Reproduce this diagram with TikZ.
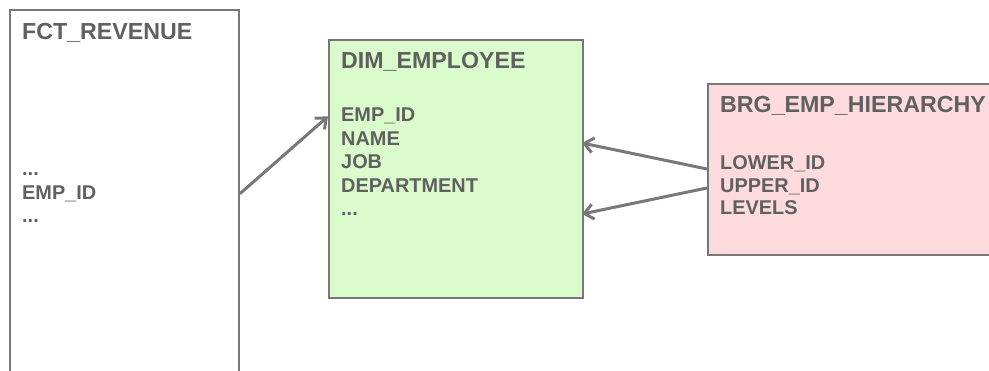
\documentclass[tikz,border=0pt]{standalone}
\usepackage{fontspec}
\setmainfont{Liberation Sans}
\usetikzlibrary{arrows.meta}

\definecolor{txtgray}{RGB}{96,96,96}
\definecolor{linegray}{RGB}{120,120,120}
\definecolor{dimgreen}{RGB}{218,251,203}
\definecolor{brgpink}{RGB}{253,218,221}

\newcommand{\etc}{...}

\tikzset{
  tablebox/.style={draw=linegray, line width=2pt, inner sep=0pt, anchor=north west},
  tabletitle/.style={text=txtgray, font=\fontsize{23.2}{27}\selectfont\bfseries, inner sep=0pt, anchor=base west},
  field/.style={text=txtgray, font=\fontsize{19.9}{23}\selectfont\bfseries, inner sep=0pt, anchor=base west},
  link/.style={draw=linegray, line width=3pt, -{Straight Barb[length=9pt,width=15pt]}}
}

\begin{document}
\begin{tikzpicture}[x=1pt, y=-1pt]

		\useasboundingbox (0, 0) rectangle (989, 371);
		\clip (0, 0) rectangle (989, 371);

		% tables
		\node [tablebox, minimum width=229pt, minimum height=420pt] (fct) at (9, 9) {};
		\node [tablebox, fill=dimgreen, minimum width=254pt, minimum height=258pt] (dim) at (328, 39) {};
		\node [tablebox, fill=brgpink, minimum width=320pt, minimum height=171pt] (brg) at (707, 83) {};

		\node [tabletitle] (fct-title) at (22, 40) {FCT\_REVENUE};
		\node [tabletitle] (dim-title) at (341, 69) {DIM\_EMPLOYEE};
		\node [tabletitle] (brg-title) at (720, 113) {BRG\_EMP\_HIERARCHY};

		% columns
		\foreach \col [count=\i] in {\etc, EMP\_ID, \etc}
			\node [field] (fct-\i) at (22, 176+23.3*\i-23.3) {\col};
		\foreach \col [count=\i] in {EMP\_ID, NAME, JOB, DEPARTMENT, \etc}
			\node [field] (dim-\i) at (341, 122+23.5*\i-23.5) {\col};
		\foreach \col [count=\i] in {LOWER\_ID, UPPER\_ID, LEVELS}
			\node [field] (brg-\i) at (720, 170+22.5*\i-22.5) {\col};

		% references
		\coordinate (lower-out) at (707, 169);
		\coordinate (upper-out) at (707, 188);
		\coordinate (lower-in) at (582, 143);
		\coordinate (upper-in) at (582, 214);

		\draw [link] (fct.east |- fct-2) -- (dim.west |- dim-1);
		\draw [link] (lower-out) -- (lower-in);
		\draw [link] (upper-out) -- (upper-in);

\end{tikzpicture}
\end{document}
